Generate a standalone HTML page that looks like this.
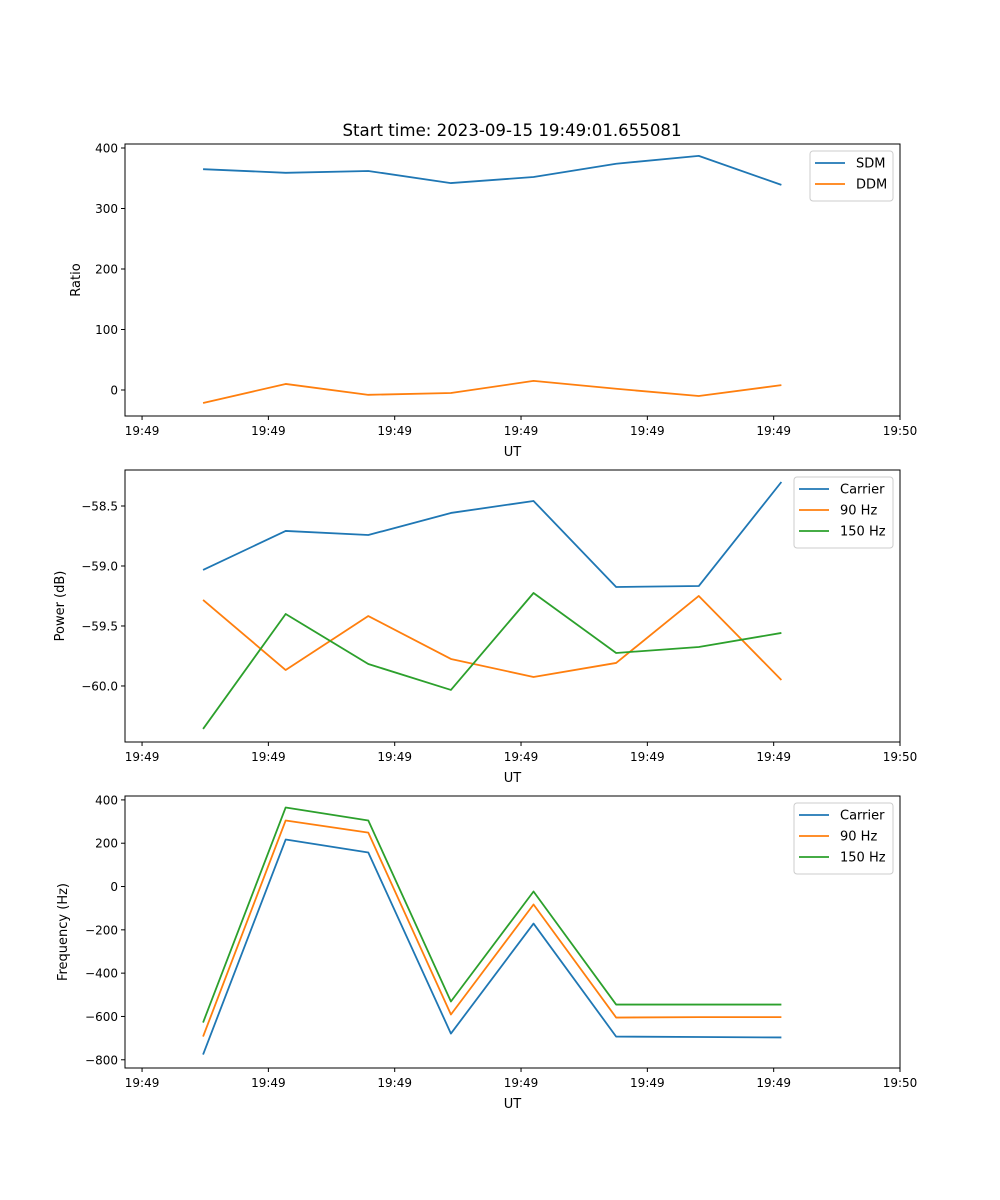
<!DOCTYPE html>
<html><head><meta charset="utf-8"><style>
html,body{margin:0;padding:0;background:#fff;}
svg{display:block;font-family:"DejaVu Sans","Liberation Sans",sans-serif;}
</style></head><body>
<svg id="fig" width="1000" height="1200" xmlns="http://www.w3.org/2000/svg">
<rect width="1000" height="1200" fill="#fff"/>
<text x="512" y="136" font-size="16.6" text-anchor="middle">Start time: 2023-09-15 19:49:01.655081</text>
</svg>
<script>
// shared x data (seconds after 19:49:00)
const times = [4.83, 11.37, 17.91, 24.45, 30.99, 37.53, 44.07, 50.61];
const xTickVals = [0, 10, 20, 30, 40, 50, 60];
const xTickLabels = ["19:49","19:49","19:49","19:49","19:49","19:49","19:50"];
// panel 1
const sdm = [365, 359, 362, 342, 352, 374, 387, 339];
const ddm = [-21.5, 10, -8, -5, 15, 2, -10, 8];
const ratioTicks = [0, 100, 200, 300, 400];
// panel 2
const powCarrier = [-59.033, -58.708, -58.742, -58.558, -58.458, -59.175, -59.167, -58.3];
const pow90 = [-59.283, -59.867, -59.417, -59.775, -59.925, -59.808, -59.25, -59.95];
const pow150 = [-60.358, -59.4, -59.817, -60.033, -59.225, -59.725, -59.675, -59.558];
const powTicks = [-60.0, -59.5, -59.0, -58.5];
const powTickLabels = ["\u221260.0","\u221259.5","\u221259.0","\u221258.5"];
// panel 3
const freqCarrier = [-776, 217, 157, -679, -171, -693, -695, -697];
const freq90 = [-693, 305, 249, -591, -83, -605, -603, -603];
const freq150 = [-628, 365, 305, -531, -23, -545, -545, -545];
const freqTicks = [-800, -600, -400, -200, 0, 200, 400];

const NS = "http://www.w3.org/2000/svg";
const svg = document.getElementById("fig");
const C = ["#1f77b4", "#ff7f0e", "#2ca02c"];
const L = 125, R = 900, XMIN = -1.35, XMAX = 60;
function xs(t){ return L + (t - XMIN) / (XMAX - XMIN) * (R - L); }
function mk(tag, attrs, parent){
  const e = document.createElementNS(NS, tag);
  for (const k in attrs) e.setAttribute(k, attrs[k]);
  (parent || svg).appendChild(e);
  return e;
}
function fmt(v){ return v < 0 ? "\u2212" + Math.abs(v) : String(v); }

function panel(name, top, bottom, ymin, ymax, yticks, ylabels, ylabel, ylabelX, series, names, legend){
  const g = mk("g", {});
  
  
  const ys = v => bottom - (v - ymin) / (ymax - ymin) * (bottom - top);
  series.forEach((s, i) => {
    const pts = s.map((v, j) => xs(times[j]).toFixed(2) + "," + ys(v).toFixed(2)).join(" ");
    const pl = mk("polyline", {points: pts, fill: "none", stroke: C[i], "stroke-width": 1.8, "stroke-linejoin": "round"}, g);
    
    
  });
  const frame = mk("rect", {x: L, y: top, width: R - L, height: bottom - top, fill: "none", stroke: "#000", "stroke-width": 1}, g);
  
  
  xTickVals.forEach((t, i) => {
    const x = xs(t);
    mk("line", {x1: x, x2: x, y1: bottom, y2: bottom + 4, stroke: "#000"}, g);
    const tx = mk("text", {x: x, y: bottom + 19, "font-size": 12, "text-anchor": "middle"}, g);
    tx.textContent = xTickLabels[i];
    
    
  });
  const xl = mk("text", {x: (L + R) / 2, y: bottom + 40, "font-size": 13, "text-anchor": "middle"}, g);
  xl.textContent = "UT";
  
  
  yticks.forEach((v, i) => {
    const y = ys(v);
    mk("line", {x1: L - 4, x2: L, y1: y, y2: y, stroke: "#000"}, g);
    const tx = mk("text", {x: L - 7, y: y + 4.5, "font-size": 12, "text-anchor": "end"}, g);
    tx.textContent = ylabels ? ylabels[i] : fmt(v);
    
    
  });
  const yc = (top + bottom) / 2;
  const yl = mk("text", {x: ylabelX, y: yc, "font-size": 13, "text-anchor": "middle", transform: "rotate(-90 " + ylabelX + " " + yc + ")"}, g);
  yl.textContent = ylabel;
  
  
  // legend
  const lg = mk("g", {}, g);
  
  
  mk("rect", {x: legend.x, y: top + 7, width: 893 - legend.x, height: 8 + names.length * 21, rx: 3, fill: "#fff", "fill-opacity": 0.8, stroke: "#ccc"}, lg);
  names.forEach((n, i) => {
    const y = top + 19 + i * 21;
    mk("line", {x1: legend.x + 5, x2: legend.x + 35, y1: y, y2: y, stroke: C[i], "stroke-width": 1.8}, lg);
    const t = mk("text", {x: legend.x + 46, y: y + 4.5, "font-size": 13}, lg);
    t.textContent = n;
    
    
  });
}

panel("ratio-panel", 144, 416, -43, 406.6, ratioTicks, null, "Ratio", 80, [sdm, ddm], ["SDM", "DDM"], {x: 810});
panel("power-panel", 470, 742, -60.467, -58.2, powTicks, powTickLabels, "Power (dB)", 64, [powCarrier, pow90, pow150], ["Carrier", "90 Hz", "150 Hz"], {x: 794});
panel("frequency-panel", 796, 1068, -838, 418, freqTicks, null, "Frequency (Hz)", 67, [freqCarrier, freq90, freq150], ["Carrier", "90 Hz", "150 Hz"], {x: 794});
</script>
</body></html>
